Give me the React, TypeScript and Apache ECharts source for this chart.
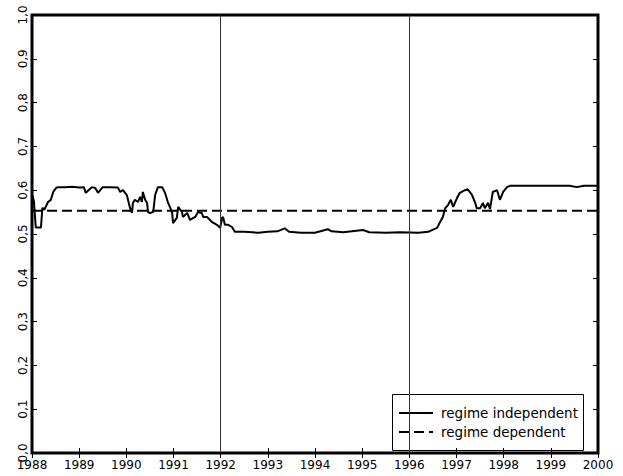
import React, { useEffect, useRef } from "react";
import * as echarts from "echarts";

const xTicks = [1988, 1989, 1990, 1991, 1992, 1993, 1994, 1995, 1996, 1997, 1998, 1999, 2000];
const yTicks = [0, 0.1, 0.2, 0.3, 0.4, 0.5, 0.6, 0.7, 0.8, 0.9, 1.0];
const regimeLines = [1992, 1996];
const regimeDependentValue = 0.553;

const indepTime = [
  1988.0, 1988.04, 1988.08, 1988.19, 1988.22, 1988.26, 1988.34, 1988.4, 1988.45, 1988.51,
  1988.55, 1988.7, 1988.85, 1989.0, 1989.1, 1989.14, 1989.2, 1989.27, 1989.34, 1989.4,
  1989.5, 1989.65, 1989.82, 1989.87, 1989.93, 1990.01, 1990.08, 1990.12, 1990.14, 1990.18,
  1990.25, 1990.29, 1990.33, 1990.35, 1990.4, 1990.44, 1990.46, 1990.5, 1990.57, 1990.61,
  1990.67, 1990.76, 1990.82, 1990.88, 1990.97, 1990.99, 1991.07, 1991.1, 1991.18, 1991.2,
  1991.29, 1991.35, 1991.46, 1991.52, 1991.6, 1991.63, 1991.71, 1991.82, 1991.92, 1991.99,
  1992.03, 1992.05, 1992.09, 1992.16, 1992.24, 1992.3, 1992.5, 1992.8, 1993.0, 1993.2,
  1993.36, 1993.45, 1993.7, 1994.0, 1994.27, 1994.35, 1994.6, 1995.02, 1995.15, 1995.5,
  1995.8, 1996.2, 1996.4, 1996.48, 1996.59, 1996.65, 1996.71, 1996.76, 1996.82, 1996.88,
  1996.93, 1997.01, 1997.07, 1997.18, 1997.24, 1997.33, 1997.39, 1997.43, 1997.5, 1997.56,
  1997.6, 1997.67, 1997.71, 1997.77, 1997.86, 1997.92, 1997.99, 1998.07, 1998.13, 1998.5,
  1999.0, 1999.4, 1999.55, 1999.7, 2000.0,
];
const indepValue = [
  0.59, 0.575, 0.515, 0.515, 0.56, 0.555, 0.573, 0.578, 0.596, 0.605,
  0.607, 0.607, 0.608, 0.606, 0.607, 0.594, 0.6, 0.607, 0.605, 0.594,
  0.607, 0.607, 0.606, 0.596, 0.6, 0.589, 0.559, 0.548, 0.571, 0.578,
  0.573, 0.585, 0.573, 0.596, 0.578, 0.571, 0.55, 0.548, 0.55, 0.589,
  0.607, 0.607, 0.594, 0.573, 0.55, 0.525, 0.537, 0.562, 0.55, 0.539,
  0.548, 0.532, 0.539, 0.55, 0.548, 0.539, 0.539, 0.527, 0.521, 0.514,
  0.537, 0.539, 0.521, 0.521, 0.516, 0.505, 0.505, 0.503, 0.505, 0.506,
  0.513, 0.505, 0.503, 0.503, 0.511, 0.506, 0.504, 0.509, 0.504, 0.503,
  0.504, 0.503, 0.505, 0.509, 0.514, 0.527, 0.539, 0.559, 0.566, 0.578,
  0.562, 0.582, 0.594, 0.6, 0.602, 0.589, 0.573, 0.559, 0.559, 0.571,
  0.559, 0.571, 0.557, 0.596, 0.6, 0.578, 0.596, 0.607, 0.61, 0.61,
  0.61, 0.61, 0.607, 0.61, 0.61,
];

const legendNames = ["regime independent", "regime dependent"];

const FONT = "DejaVu Sans, Verdana, sans-serif";

export default function App() {
  const ref = useRef<HTMLDivElement>(null);
  useEffect(() => {
    if (!ref.current) return;
    const chart = echarts.init(ref.current, null, { renderer: "svg" });
    const yFmt = (v: number) => v.toFixed(1).replace(".", ",");
    const baseX = {
      type: "value",
      min: xTicks[0],
      max: xTicks[xTicks.length - 1],
      interval: 1,
      splitLine: { show: false },
      axisLine: { show: false },
      axisTick: { show: true, inside: true, length: 5, lineStyle: { color: "#000", width: 1 } },
    };
    const baseY = {
      type: "value",
      min: yTicks[0],
      max: yTicks[yTicks.length - 1],
      interval: 0.1,
      splitLine: { show: false },
      axisLine: { show: false },
      axisTick: { show: true, inside: true, length: 5, lineStyle: { color: "#000", width: 1 } },
    };
    chart.setOption({
      animation: false,
      backgroundColor: "#fff",
      grid: {
        left: 32,
        right: 25,
        top: 15,
        bottom: 23,
        show: true,
        borderColor: "#000",
        borderWidth: 3,
        backgroundColor: "transparent",
      },
      xAxis: [
        {
          ...baseX,
          position: "bottom",
          axisLabel: {
            color: "#000",
            fontFamily: FONT,
            fontSize: 12,
            margin: 6,
            formatter: (v: number) => String(v),
          },
        },
        { ...baseX, position: "top", axisLabel: { show: false } },
      ],
      yAxis: [
        {
          ...baseY,
          position: "left",
          axisLabel: {
            color: "#000",
            fontFamily: FONT,
            fontSize: 12,
            rotate: 90,
            margin: 3,
            formatter: yFmt,
          },
        },
        { ...baseY, position: "right", axisLabel: { show: false } },
      ],
      series: [
        {
          type: "line",
          name: "regime lines",
          data: [],
          silent: true,
          markLine: {
            silent: true,
            symbol: "none",
            label: { show: false },
            lineStyle: { color: "#333", width: 1, type: "solid" },
            data: regimeLines.map((y) => ({ xAxis: y })),
          },
        },
        {
          type: "line",
          name: legendNames[1],
          data: [
            [xTicks[0], regimeDependentValue],
            [xTicks[xTicks.length - 1], regimeDependentValue],
          ],
          showSymbol: false,
          symbol: "none",
          lineStyle: { color: "#000", width: 2, type: [10, 5] },
        },
        {
          type: "line",
          name: legendNames[0],
          data: indepTime.map((t, i) => [t, indepValue[i]]),
          showSymbol: false,
          symbol: "none",
          lineStyle: { color: "#000", width: 2 },
        },
      ],
      graphic: [
        {
          type: "group",
          z: 100,
          children: [
            {
              type: "rect",
              shape: { x: 392.5, y: 394.5, width: 191, height: 56 },
              style: { fill: "#fff", stroke: "#000", lineWidth: 1 },
            },
            {
              type: "line",
              shape: { x1: 399, y1: 413, x2: 433, y2: 413 },
              style: { stroke: "#000", lineWidth: 2 },
            },
            {
              type: "line",
              shape: { x1: 399, y1: 432, x2: 433, y2: 432 },
              style: { stroke: "#000", lineWidth: 2, lineDash: [10, 5] },
            },
            {
              type: "text",
              x: 441,
              y: 413,
              style: {
                text: legendNames[0],
                fill: "#000",
                font: `13.5px ${FONT}`,
                verticalAlign: "middle",
              },
            },
            {
              type: "text",
              x: 441,
              y: 432,
              style: {
                text: legendNames[1],
                fill: "#000",
                font: `13.5px ${FONT}`,
                verticalAlign: "middle",
              },
            },
          ],
        },
      ],
    });
    return () => chart.dispose();
  }, []);
  return (
    <div
      ref={ref}
      style={{ position: "fixed", left: 0, top: 0, width: 623, height: 476 }}
    />
  );
}
